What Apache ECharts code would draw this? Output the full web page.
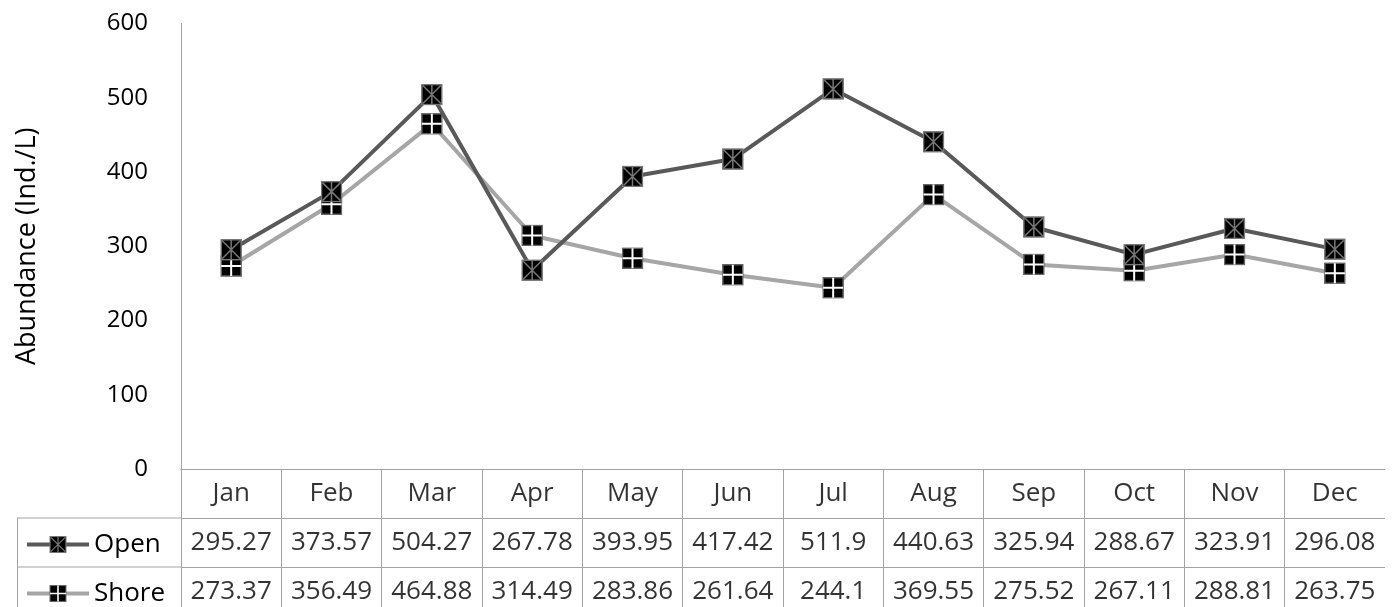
<!DOCTYPE html>
<html>
<head>
<meta charset="utf-8">
<script src="https://cdn.jsdelivr.net/npm/echarts@6/dist/echarts.min.js"></script>
<style>
html,body{margin:0;padding:0;background:#fff;}
#main{width:1396px;height:607px;}
</style>
</head>
<body>
<div id="main"></div>
<script>
const months = ['Jan','Feb','Mar','Apr','May','Jun','Jul','Aug','Sep','Oct','Nov','Dec'];
const openValues = [295.27, 373.57, 504.27, 267.78, 393.95, 417.42, 511.9, 440.63, 325.94, 288.67, 323.91, 296.08];
const shoreValues = [273.37, 356.49, 464.88, 314.49, 283.86, 261.64, 244.1, 369.55, 275.52, 267.11, 288.81, 263.75];
const seriesNames = ['Open', 'Shore'];
const yTicks = [0, 100, 200, 300, 400, 500, 600];

const FONT = '"Open Sans", "DejaVu Sans", sans-serif';
const GRID_COLOR = '#a3a3a3';
const ROW_H = 49;
const TABLE_TOP = 469;
const TABLE_VISIBLE = 607 - TABLE_TOP;

function svgUri(svg) {
  return 'image://data:image/svg+xml;charset=utf-8,' + encodeURIComponent(svg);
}
const openSymbol = svgUri(
  "<svg xmlns='http://www.w3.org/2000/svg' width='22' height='22' viewBox='0 0 22 22'>" +
  "<rect x='1' y='1' width='20' height='20' fill='#000' stroke='#777' stroke-width='1.5'/>" +
  "<path d='M2 2L20 20M20 2L2 20M11 1V21' stroke='#777' stroke-width='1.5' fill='none'/></svg>");
const shoreSymbol = svgUri(
  "<svg xmlns='http://www.w3.org/2000/svg' width='22' height='22' viewBox='0 0 22 22'>" +
  "<rect x='1' y='1' width='20' height='20' fill='#000' stroke='#666' stroke-width='1.5'/>" +
  "<path d='M11 1V21M1 11H21' stroke='#fff' stroke-width='2' fill='none'/></svg>");

// table cells: row 0 = month header, row 1 = Open, row 2 = Shore
const tableData = [];
months.forEach((m, i) => {
  tableData.push({ value: [i, 0.5], text: m });
  tableData.push({ value: [i, 1.5], text: String(openValues[i]) });
  tableData.push({ value: [i, 2.5], text: String(shoreValues[i]) });
});

function legendFor(name, centerY) {
  return {
    orient: 'horizontal',
    left: 25,
    top: centerY - 11,
    padding: 0,
    itemWidth: 62,
    itemHeight: 22,
    data: [name],
    lineStyle: { width: 4 },
    textStyle: { fontFamily: FONT, fontSize: 26, color: '#000', lineHeight: 22 },
    selectedMode: false
  };
}

const chart = echarts.init(document.getElementById('main'), null, { renderer: 'canvas' });

const option = {
  backgroundColor: '#fff',
  animation: false,
  textStyle: { fontFamily: FONT },
  grid: [
    { left: 181, right: 11, top: 23.5, bottom: 138, containLabel: false },
    { left: 181, right: 11, top: TABLE_TOP, bottom: 0, containLabel: false }
  ],
  legend: [
    legendFor(seriesNames[0], TABLE_TOP + ROW_H * 1.5),
    legendFor(seriesNames[1], TABLE_TOP + ROW_H * 2.5)
  ],
  xAxis: [
    {
      type: 'category', gridIndex: 0, data: months, boundaryGap: true,
      axisLine: { show: true, lineStyle: { color: GRID_COLOR, width: 1 } },
      axisTick: { show: false }, axisLabel: { show: false }, splitLine: { show: false }
    },
    {
      type: 'category', gridIndex: 1, data: months, boundaryGap: true,
      axisLine: { show: false }, axisTick: { show: false }, axisLabel: { show: false },
      splitLine: { show: true, showMaxLine: false, lineStyle: { color: GRID_COLOR, width: 1 } }
    }
  ],
  yAxis: [
    {
      type: 'value', gridIndex: 0, min: 0, max: 600, interval: 100,
      name: 'Abundance (Ind./L)', nameLocation: 'middle', nameRotate: 90, nameGap: 140,
      nameTextStyle: { fontFamily: FONT, fontSize: 27, color: '#000' },
      axisLine: { show: true, lineStyle: { color: GRID_COLOR, width: 1 } },
      axisTick: { show: false },
      axisLabel: { fontFamily: FONT, fontSize: 24, color: '#000', margin: 33,
        formatter: v => (yTicks.indexOf(v) >= 0 ? String(v) : '') },
      splitLine: { show: false }
    },
    {
      type: 'value', gridIndex: 1, min: 0, max: TABLE_VISIBLE / ROW_H, interval: 1, inverse: true,
      axisLine: { show: false }, axisTick: { show: false }, axisLabel: { show: false },
      splitLine: { show: true, showMaxLine: false, lineStyle: { color: GRID_COLOR, width: 1 } }
    }
  ],
  graphic: [
    { type: 'line', shape: { x1: 17, y1: 518, x2: 181, y2: 518 }, style: { stroke: GRID_COLOR, lineWidth: 1 }, silent: true },
    { type: 'line', shape: { x1: 17, y1: 567, x2: 181, y2: 567 }, style: { stroke: GRID_COLOR, lineWidth: 1 }, silent: true },
    { type: 'line', shape: { x1: 17.5, y1: 518, x2: 17.5, y2: 607 }, style: { stroke: GRID_COLOR, lineWidth: 1 }, silent: true }
  ],
  series: [
    {
      name: seriesNames[1], type: 'line', xAxisIndex: 0, yAxisIndex: 0,
      data: shoreValues, symbol: shoreSymbol, symbolSize: 22, showAllSymbol: true,
      lineStyle: { color: '#a6a6a6', width: 4 }, itemStyle: { color: '#a6a6a6' }, z: 2
    },
    {
      name: seriesNames[0], type: 'line', xAxisIndex: 0, yAxisIndex: 0,
      data: openValues, symbol: openSymbol, symbolSize: 22, showAllSymbol: true,
      lineStyle: { color: '#595959', width: 4 }, itemStyle: { color: '#595959' }, z: 3
    },
    {
      type: 'scatter', xAxisIndex: 1, yAxisIndex: 1, silent: true,
      data: tableData, symbol: 'circle', symbolSize: 1, itemStyle: { color: 'rgba(0,0,0,0)' },
      label: {
        show: true, position: 'inside', color: '#000', fontFamily: FONT, fontSize: 26,
        formatter: p => p.data.text
      },
      z: 5
    }
  ]
};
chart.setOption(option);
</script>
</body>
</html>
